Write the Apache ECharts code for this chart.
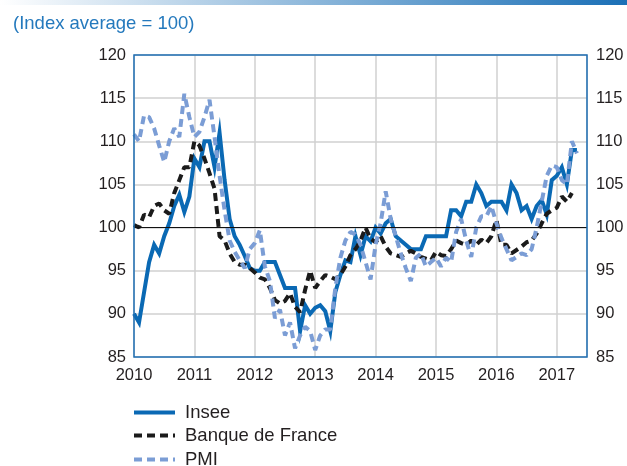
<!DOCTYPE html>
<html>
<head>
<meta charset="utf-8">
<script src="https://cdn.jsdelivr.net/npm/echarts@6/dist/echarts.min.js"></script>
<style>
  html, body { margin: 0; padding: 0; background: #fff; }
  #chart { width: 627px; height: 466px; }
</style>
</head>
<body>
<div id="chart"></div>
<script>
  // monthly values, first point = January 2010
  var startYear = 2010;
  var yearTicks = [2010, 2011, 2012, 2013, 2014, 2015, 2016, 2017];
  var insee = [
    90, 89, 92.5, 96, 98, 97, 99, 100.5, 102.5, 103.8, 101.8, 103.6,
    108, 107, 110, 110, 107, 111, 105.5, 101, 99, 98, 96.7, 95.3,
    95, 95, 96, 96, 96, 94.5, 93, 93, 93, 88, 91, 90,
    90.7, 91, 90.3, 88, 92.5, 94.5, 96.2, 96, 99, 96.8, 99, 98.4,
    100, 99.3, 100.5, 101, 99, 98.5, 98, 97.5, 97.5, 97.5, 99, 99,
    99, 99, 99, 102, 102, 101.3, 103, 103, 105, 104, 102.5, 103,
    103, 103, 102, 105, 104, 102, 102.5, 101, 102.5, 103.2, 101.5, 105.5,
    106, 107, 105, 109, 109
  ];
  var banqueDeFrance = [
    100.3, 100, 101.5, 101.2, 102.5, 102.8, 102, 101.6, 104, 105.5, 107, 107,
    110, 109.5, 108, 106.3, 104.5, 99, 98.5, 97, 96, 95.7, 95.7, 95.3,
    94.8, 94.2, 94, 93, 91.6, 91.2, 91.5, 92.4, 90.8, 90.2, 92.8, 95,
    93, 93.8, 94.5, 94.3, 94, 94.5, 95.5, 96.8, 97.5, 98.5, 100, 98.7,
    98.3, 99, 97.8, 97, 96.8, 96.6, 97, 97.3, 97, 96.6, 96.4, 96.2,
    97.2, 96.8, 96.7, 97.5, 98.5, 98.2, 98, 98.5, 98, 98.6, 98.2, 99,
    100.9, 98, 98, 97, 97.4, 97.8, 98.3, 98.5, 99.3, 100.5, 101.6, 102,
    102.3, 103.6, 103, 104
  ];
  var pmi = [
    110.8, 110, 113, 112.8, 111.5, 109.5, 107.6, 110, 111.5, 110.5, 115.5, 112.8,
    110.5, 111.1, 112.8, 114.8, 110.5, 106, 102, 98.5, 97.2, 96.2, 95.3, 97.5,
    98.2, 99.7, 95.5, 93.8, 89.5, 90.5, 87.5, 89, 86, 87.5, 88.5, 88,
    85.8, 87.5, 88.2, 88.2, 93, 96.5, 98.5, 99.5, 99.2, 98, 96, 94,
    98, 100.5, 104.2, 101, 99, 97, 95.3, 93.8, 96.5, 97, 95.5, 96,
    96.5, 95.5, 96.5, 96, 99.5, 101, 98.5, 96.6, 100, 101.3, 101.3, 102.5,
    100.5, 98.8, 97.5, 96.2, 96.6, 97, 96.8, 97.5, 100, 103, 106, 107.2,
    107, 105.5, 105, 110, 108.6
  ];

  function toPoints(arr) {
    return arr.map(function (v, i) { return [startYear + i / 12, v]; });
  }

  var myChart = echarts.init(document.getElementById('chart'));
  var labelColor = '#231f20';
  var font = 'Liberation Sans, Arial, sans-serif';

  var option = {
    animation: false,
    textStyle: { fontFamily: font },
    title: {
      text: '(Index average = 100)',
      left: 8, top: 9,
      textStyle: { color: '#2479bd', fontSize: 18.5, fontWeight: 'normal', fontFamily: font }
    },
    graphic: [{
      type: 'rect',
      shape: { x: 0, y: 0, width: 627, height: 5 },
      style: {
        fill: new echarts.graphic.LinearGradient(0, 0, 1, 0, [
          { offset: 0, color: '#ffffff' },
          { offset: 1, color: '#1a6fb6' }
        ])
      },
      silent: true
    }, {
      // plot frame drawn above the split lines
      type: 'rect',
      shape: { x: 134, y: 55, width: 453, height: 302 },
      style: { fill: null, stroke: '#1f6fb4', lineWidth: 1.5 },
      z: 100, silent: true
    }],
    legend: [
      { data: ['Insee'], left: 132, top: 403 },
      { data: ['Banque de France'], left: 132, top: 426 },
      { data: ['PMI'], left: 132, top: 450 }
    ].map(function (l) {
      l.orient = 'vertical';
      l.itemWidth = 41; l.itemHeight = 12;
      l.padding = 0;
      l.lineStyle = { width: 4 };
      l.itemStyle = { opacity: 0 };
      l.textStyle = { fontSize: 18.5, color: labelColor, fontFamily: font, padding: [0, 0, 0, 5] };
      return l;
    }),
    grid: {
      left: 134, right: 40, top: 55, bottom: 109,
      show: false
    },
    xAxis: {
      type: 'value', min: 2010, max: 2017.5, interval: 1,
      axisLine: { show: false }, axisTick: { show: false },
      axisLabel: {
        color: labelColor, fontSize: 16.5, margin: 10, showMaxLabel: false,
        formatter: function (v) { return v % 1 === 0 ? String(v) : ''; }
      },
      splitLine: { show: true, lineStyle: { color: '#d0d0d0', width: 1.5 } }
    },
    yAxis: [{
      type: 'value', min: 85, max: 120, interval: 5, position: 'left',
      axisLine: { show: false }, axisTick: { show: false },
      axisLabel: { color: labelColor, fontSize: 16.5, margin: 8 },
      splitLine: { show: true, lineStyle: { color: '#d0d0d0', width: 1.5 } }
    }, {
      type: 'value', min: 85, max: 120, interval: 5, position: 'right',
      axisLine: { show: false }, axisTick: { show: false },
      axisLabel: { color: labelColor, fontSize: 16.5, margin: 9 },
      splitLine: { show: false }
    }],
    series: [{
      name: 'Insee', type: 'line', symbol: 'none',
      data: toPoints(insee),
      lineStyle: { color: '#0a69b4', width: 4, join: 'miter' },
      itemStyle: { color: '#0a69b4' },
      markLine: {
        silent: true, symbol: 'none', label: { show: false },
        lineStyle: { color: '#111', width: 1, type: 'solid' },
        data: [{ yAxis: 100 }]
      }
    }, {
      name: 'Banque de France', type: 'line', symbol: 'none',
      data: toPoints(banqueDeFrance),
      lineStyle: { color: '#1b1b1b', width: 4, type: [8, 5] },
      itemStyle: { color: '#1b1b1b' }
    }, {
      name: 'PMI', type: 'line', symbol: 'none',
      data: toPoints(pmi),
      lineStyle: { color: '#7b9dd5', width: 4, type: [8, 5] },
      itemStyle: { color: '#7b9dd5' }
    }]
  };
  myChart.setOption(option);
</script>
</body>
</html>
